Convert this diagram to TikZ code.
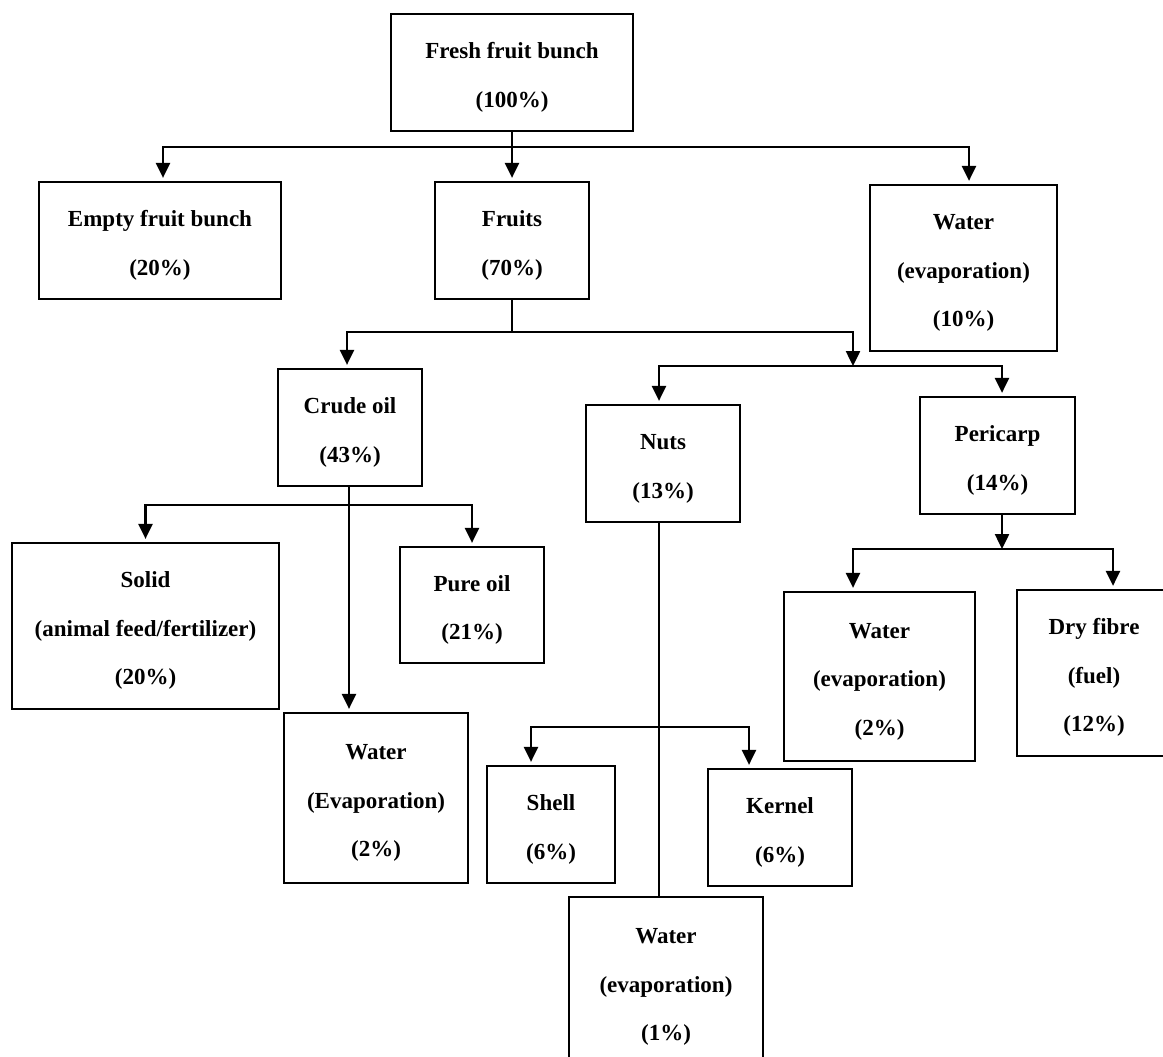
\documentclass[tikz,border=0pt]{standalone}
\usepackage{fontspec}
\setmainfont{Liberation Serif}
\usetikzlibrary{arrows.meta,calc}
\newcommand\tstr{\rule{0pt}{25.5pt}}
\begin{document}
\begin{tikzpicture}[x=1pt,y=-1pt,
  box/.style={draw,line width=2.2pt,inner sep=0pt,align=center,
    font=\fontsize{23}{48.5}\selectfont\bfseries},
  conn/.style={line width=2.5pt},
  arr/.style={line width=2.5pt,-{Triangle[length=15pt,width=14pt]},shorten >=3pt},
  arrj/.style={line width=2.5pt,-{Triangle[length=15pt,width=14pt]}}]
\clip (0,0) rectangle (1163,1057);
\fill[white] (0,0) rectangle (1163,1057);
% nodes
\node[box,minimum width=242pt,minimum height=117pt] (ffb) at (512,72.5) {\tstr Fresh fruit bunch\\(100\%)};
\node[box,minimum width=242pt,minimum height=117pt] (efb) at (160,240.5) {\tstr Empty fruit bunch\\(20\%)};
\node[box,minimum width=154pt,minimum height=117pt] (fruits) at (512,240.5) {\tstr Fruits\\(70\%)};
\node[box,minimum width=187pt,minimum height=166pt] (water10) at (963.5,268) {\tstr Water\\(evaporation)\\(10\%)};
\node[box,minimum width=144pt,minimum height=117pt] (crude) at (350,427.5) {\tstr Crude oil\\(43\%)};
\node[box,minimum width=154pt,minimum height=117pt] (nuts) at (663,463.5) {\tstr Nuts\\(13\%)};
\node[box,minimum width=155pt,minimum height=117pt] (pericarp) at (997.5,455.5) {\tstr Pericarp\\(14\%)};
\node[box,minimum width=267pt,minimum height=166pt] (solid) at (145.5,626) {\tstr Solid\\(animal feed/fertilizer)\\(20\%)};
\node[box,minimum width=144pt,minimum height=116pt] (pureoil) at (472,605) {\tstr Pure oil\\(21\%)};
\node[box,minimum width=184pt,minimum height=170pt] (waterc) at (376,798) {\tstr Water\\(Evaporation)\\(2\%)};
\node[box,minimum width=191pt,minimum height=169pt] (waterp) at (879.5,676.5) {\tstr Water\\(evaporation)\\(2\%)};
\node[box,minimum width=154pt,minimum height=166pt] (dryfibre) at (1094,673) {\tstr Dry fibre\\(fuel)\\(12\%)};
\node[box,minimum width=128pt,minimum height=117pt] (shell) at (551,824.5) {\tstr Shell\\(6\%)};
\node[box,minimum width=144pt,minimum height=117pt] (kernel) at (780,827.5) {\tstr Kernel\\(6\%)};
\node[box,minimum width=194pt,minimum height=170pt] (watern) at (666,982) {\tstr Water\\(evaporation)\\(1\%)};
% junction coordinates
\coordinate (h1) at ($(ffb.south)+(0,14.7)$);
\coordinate (h2) at ($(fruits.south)+(0,32)$);
\coordinate (h3) at (853,366);
\coordinate (h4) at ($(crude.south)+(0,17.7)$);
\coordinate (h5) at (1002,549);
\coordinate (h6) at (659,727);
% connectors from fresh fruit bunch
\draw[arr] (ffb.south) -- (fruits.north);
\draw[arr] (h1) -| ([xshift=3pt]efb.north);
\draw[arr] (h1) -| ([xshift=5.5pt]water10.north);
% from fruits
\draw[conn] (fruits.south) -- (h2);
\draw[arr] (h2) -| ([xshift=-3pt]crude.north);
\draw[arrj] (h2) -| (h3);
\draw[arr] (h3) -| ([xshift=-4pt]nuts.north);
\draw[arr] (h3) -| ([xshift=4.5pt]pericarp.north);
% from crude oil
\draw[arr] ([xshift=-1pt]crude.south) -- ([xshift=-1pt]crude.south |- waterc.north);
\draw[arr] (h4) -| (solid.north);
\draw[arr] (h4) -| (pureoil.north);
% from pericarp
\draw[arrj] (pericarp.south -| h5) -- (h5);
\draw[arr] (h5) -| ([xshift=-26.5pt]waterp.north);
\draw[arr] (h5) -| ([xshift=19pt]dryfibre.north);
% from nuts
\draw[conn] (nuts.south -| h6) -- (h6 |- watern.north);
\draw[arr] (h6) -| ([xshift=-20pt]shell.north);
\draw[arr] (h6) -| ([xshift=-31pt]kernel.north);
\end{tikzpicture}
\end{document}
